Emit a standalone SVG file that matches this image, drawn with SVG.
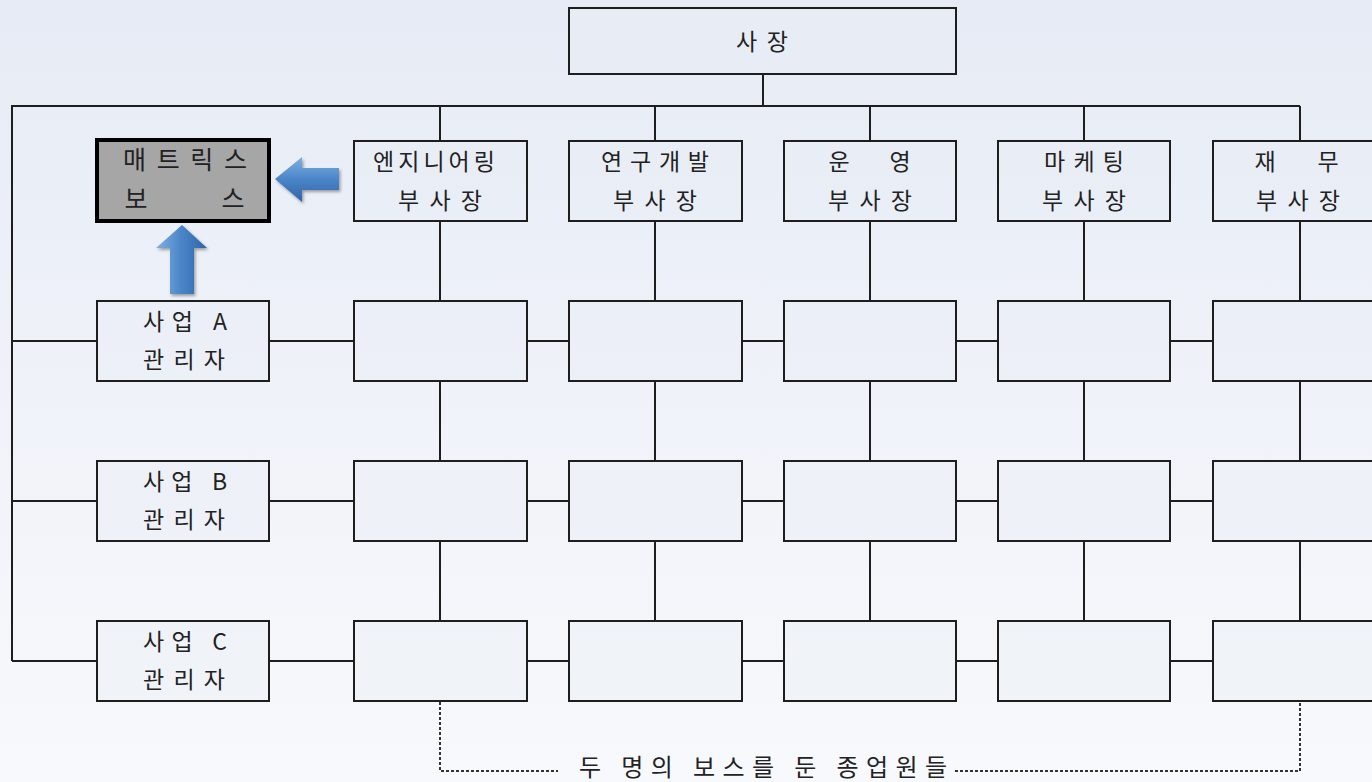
<svg xmlns="http://www.w3.org/2000/svg" width="1372" height="782" viewBox="0 0 1372 782">
<defs>
<linearGradient id="bg" x1="0" y1="0" x2="0" y2="1">
<stop offset="0" stop-color="#e6ebf5"/>
<stop offset="1" stop-color="#f8f9fc"/>
</linearGradient>
<linearGradient id="arrowH" x1="0" y1="0" x2="0" y2="1">
<stop offset="0" stop-color="#7fb0e0"/>
<stop offset="0.5" stop-color="#4a85c8"/>
<stop offset="1" stop-color="#2f63a8"/>
</linearGradient>
<linearGradient id="arrowV" x1="0" y1="0" x2="1" y2="0">
<stop offset="0" stop-color="#7fb0e0"/>
<stop offset="0.5" stop-color="#4a85c8"/>
<stop offset="1" stop-color="#2f63a8"/>
</linearGradient>
<filter id="shadow" x="-30%" y="-30%" width="160%" height="160%">
<feDropShadow dx="1.5" dy="2" stdDeviation="1.5" flood-color="#000" flood-opacity="0.35"/>
</filter>
<style>
.box{fill:#e9edf6;fill-opacity:0.4;stroke:#1e1e1e;stroke-width:2}
.boss{fill:#a6a6a6;stroke:#000;stroke-width:4}
.ln{stroke:#1e1e1e;stroke-width:2;fill:none}
.dot{stroke:#333;stroke-width:2;fill:none;stroke-dasharray:3 2}
text{font-family:"Noto Sans CJK KR","Noto Sans",sans-serif;font-size:23px;fill:#222;text-anchor:middle}
.big{font-size:25px}
.cap{font-size:24px}
</style>
</defs>
<rect x="0" y="0" width="1372" height="782" fill="url(#bg)"/>

<g id="connectors">
<line class="ln" x1="763" y1="74" x2="763" y2="106"/>
<polyline class="ln" points="12,661 12,106 1300,106"/>
<line class="ln" x1="440" y1="106" x2="440" y2="141"/>
<line class="ln" x1="655" y1="106" x2="655" y2="141"/>
<line class="ln" x1="870" y1="106" x2="870" y2="141"/>
<line class="ln" x1="1084" y1="106" x2="1084" y2="141"/>
<line class="ln" x1="1300" y1="106" x2="1300" y2="141"/>
<path class="ln" d="M440 221V301M440 381V461M440 541V621M655 221V301M655 381V461M655 541V621M870 221V301M870 381V461M870 541V621M1084 221V301M1084 381V461M1084 541V621M1300 221V301M1300 381V461M1300 541V621"/>
<path class="ln" d="M12 341H97M269 341H354M527 341H569M742 341H784M956 341H998M1170 341H1213"/>
<path class="ln" d="M12 501H97M269 501H354M527 501H569M742 501H784M956 501H998M1170 501H1213"/>
<path class="ln" d="M12 661H97M269 661H354M527 661H569M742 661H784M956 661H998M1170 661H1213"/>
<polyline class="dot" points="440,702 440,771 558,771"/>
<polyline class="dot" points="955,771 1300,771 1300,702"/>
</g>

<g id="president"><rect class="box" x="569" y="8" width="387" height="66"/><text x="762" y="50" textLength="52" lengthAdjust="spacing">사장</text></g>

<g id="matrix-boss"><rect class="boss" x="97" y="140" width="172" height="81"/>
<text x="185" y="169" class="big" textLength="124" lengthAdjust="spacing">매트릭스</text>
<text x="136" y="208" class="big">보</text><text x="233" y="208" class="big">스</text></g>

<g id="arrow-left" filter="url(#shadow)"><path d="M275 179 L302 157 L302 168 L339 168 L339 190 L302 190 L302 202 Z" fill="url(#arrowH)"/></g>
<g id="arrow-up" filter="url(#shadow)"><path d="M182 225 L207 248 L194 248 L194 294 L170 294 L170 248 L156 248 Z" fill="url(#arrowV)"/></g>

<g id="vp-eng"><rect class="box" x="354" y="141" width="173" height="80"/><text x="434" y="170" textLength="122" lengthAdjust="spacing">엔지니어링</text><text x="440" y="209" textLength="84" lengthAdjust="spacing">부사장</text></g>
<g id="vp-rnd"><rect class="box" x="569" y="141" width="173" height="80"/><text x="655" y="170" textLength="108" lengthAdjust="spacing">연구개발</text><text x="655" y="209" textLength="84" lengthAdjust="spacing">부사장</text></g>
<g id="vp-ops"><rect class="box" x="784" y="141" width="172" height="80"/><text x="839" y="170">운</text><text x="900" y="170">영</text><text x="870" y="209" textLength="84" lengthAdjust="spacing">부사장</text></g>
<g id="vp-mkt"><rect class="box" x="998" y="141" width="172" height="80"/><text x="1084" y="170" textLength="80" lengthAdjust="spacing">마케팅</text><text x="1084" y="209" textLength="84" lengthAdjust="spacing">부사장</text></g>
<g id="vp-fin"><rect class="box" x="1213" y="141" width="173" height="80"/><text x="1265" y="170">재</text><text x="1328" y="170">무</text><text x="1298" y="209" textLength="84" lengthAdjust="spacing">부사장</text></g>

<g id="mgr-a"><rect class="box" x="97" y="301" width="172" height="80"/><text x="185" y="330" textLength="84" lengthAdjust="spacing">사업 A</text><text x="184" y="368" textLength="82" lengthAdjust="spacing">관리자</text></g>
<g id="mgr-b"><rect class="box" x="97" y="461" width="172" height="80"/><text x="185" y="490" textLength="84" lengthAdjust="spacing">사업 B</text><text x="184" y="528" textLength="82" lengthAdjust="spacing">관리자</text></g>
<g id="mgr-c"><rect class="box" x="97" y="621" width="172" height="80"/><text x="185" y="650" textLength="84" lengthAdjust="spacing">사업 C</text><text x="184" y="688" textLength="82" lengthAdjust="spacing">관리자</text></g>

<g id="cells-a"><rect class="box" x="354" y="301" width="173" height="80"/><rect class="box" x="569" y="301" width="173" height="80"/><rect class="box" x="784" y="301" width="172" height="80"/><rect class="box" x="998" y="301" width="172" height="80"/><rect class="box" x="1213" y="301" width="173" height="80"/></g>
<g id="cells-b"><rect class="box" x="354" y="461" width="173" height="80"/><rect class="box" x="569" y="461" width="173" height="80"/><rect class="box" x="784" y="461" width="172" height="80"/><rect class="box" x="998" y="461" width="172" height="80"/><rect class="box" x="1213" y="461" width="173" height="80"/></g>
<g id="cells-c"><rect class="box" x="354" y="621" width="173" height="80"/><rect class="box" x="569" y="621" width="173" height="80"/><rect class="box" x="784" y="621" width="172" height="80"/><rect class="box" x="998" y="621" width="172" height="80"/><rect class="box" x="1213" y="621" width="173" height="80"/></g>

<g id="caption"><text x="763" y="776" class="cap" textLength="368" lengthAdjust="spacing">두 명의 보스를 둔 종업원들</text></g>
</svg>
